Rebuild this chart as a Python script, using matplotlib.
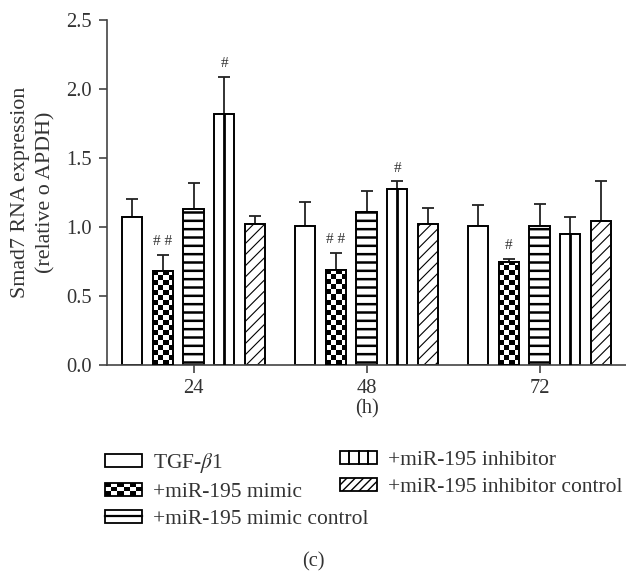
import numpy as np
import matplotlib
matplotlib.use("Agg")
import matplotlib.pyplot as plt
from matplotlib.patches import Rectangle, Patch
from matplotlib.lines import Line2D
from matplotlib.legend_handler import HandlerBase

# ---------------- data ----------------
time_points = ["24", "48", "72"]
groups = ["TGF-$\\beta$1", "+miR-195 mimic", "+miR-195 mimic control",
          "+miR-195 inhibitor", "+miR-195 inhibitor control"]
tgf = [1.07, 1.01, 1.01]
mimic = [0.68, 0.69, 0.75]
mimic_ctrl = [1.13, 1.11, 1.01]
inhibitor = [1.82, 1.275, 0.95]
inhibitor_ctrl = [1.02, 1.02, 1.04]
tgf_err = [0.13, 0.17, 0.15]
mimic_err = [0.12, 0.12, 0.02]
mimic_ctrl_err = [0.19, 0.15, 0.16]
inhibitor_err = [0.27, 0.055, 0.12]
inhibitor_ctrl_err = [0.06, 0.12, 0.29]
# significance marks: (group index, time index, text)
marks_group = [1, 3, 1, 3, 1]
marks_time = [0, 0, 1, 1, 2]
marks_text = ["# #", "#", "# #", "#", "#"]

series = [tgf, mimic, mimic_ctrl, inhibitor, inhibitor_ctrl]
errors = [tgf_err, mimic_err, mimic_ctrl_err, inhibitor_err, inhibitor_ctrl_err]

# ---------------- style ----------------
plt.rcParams['font.family'] = ['Liberation Serif', 'DejaVu Serif']
plt.rcParams['mathtext.fontset'] = 'stix'
TXT = '#333333'
AX = '#444444'
FS = 14.8
LFS = 15.5

fig = plt.figure(figsize=(6.26, 5.72), dpi=100)
W, H = 626, 572
ax = fig.add_axes([107 / W, 1 - 365 / H, 1 - 107 / W, (365 - 20) / H])

x = np.arange(len(time_points))
step = 0.177
width = 0.116
offsets = (np.arange(len(series)) - 2) * step

bars_all = []
for i, (vals, errs) in enumerate(zip(series, errors)):
    kw = dict(width=width, edgecolor='black', linewidth=1.4, facecolor='white', zorder=2)
    if i == 2:
        with plt.rc_context({'hatch.linewidth': 1.8}):
            b = ax.bar(x + offsets[i], vals, hatch='--', **kw)
    elif i == 4:
        with plt.rc_context({'hatch.linewidth': 0.8}):
            b = ax.bar(x + offsets[i], vals, hatch='///', **kw)
    else:
        b = ax.bar(x + offsets[i], vals, **kw)
    ax.errorbar(x + offsets[i], vals, yerr=[np.zeros(len(vals)), errs], fmt='none',
                ecolor='#222222', elinewidth=1.3, capsize=4, capthick=1.3, zorder=1)
    bars_all.append(b)

# checkerboard for mimic bars
cell_x = 0.0289
cell_y = 0.0362
for rect in bars_all[1]:
    x0, y0 = rect.get_x(), rect.get_y()
    w, h = rect.get_width(), rect.get_height()
    nc = int(np.ceil(w / cell_x))
    nr = int(np.ceil(h / cell_y))
    pat = (np.indices((nr, nc)).sum(axis=0) % 2).astype(float)
    im = ax.imshow(pat, cmap='gray', extent=(x0, x0 + nc * cell_x, y0, y0 + nr * cell_y),
                   origin='lower', interpolation='nearest', aspect='auto', zorder=2.5)
    im.set_clip_path(rect)
    ax.add_patch(Rectangle((x0, y0), w, h, fill=False, edgecolor='black',
                           linewidth=1.4, zorder=3))

# single vertical line for inhibitor bars
for rect in bars_all[3]:
    cx = rect.get_x() + rect.get_width() / 2
    ax.plot([cx, cx], [0, rect.get_height()], color='black', lw=2.0, zorder=3)

# significance marks
for g, t, s in zip(marks_group, marks_time, marks_text):
    xv = x[t] + offsets[g]
    top = series[g][t] + errors[g][t]
    ax.annotate(s, (xv, top), xytext=(0, 5), textcoords='offset points',
                ha='center', va='bottom', fontsize=11, color=TXT)

ax.set_xlim(-0.5, 2.5)
ax.set_ylim(0, 2.5)
ax.set_yticks([0, 0.5, 1.0, 1.5, 2.0, 2.5])
ax.set_yticklabels([f"{v:.1f}" for v in [0, 0.5, 1.0, 1.5, 2.0, 2.5]])
ax.set_xticks(x)
ax.set_xticklabels(time_points)
for s in ['top', 'right']:
    ax.spines[s].set_visible(False)
for s in ['left', 'bottom']:
    ax.spines[s].set_color(AX)
    ax.spines[s].set_linewidth(1.2)
ax.tick_params(axis='both', colors=AX, labelcolor=TXT, labelsize=FS, width=1.2, length=6)
ax.tick_params(axis='y', pad=5)
ax.tick_params(axis='x', pad=4)
ax.set_ylabel("Smad7 RNA expression\n(relative o APDH)", fontsize=15.8, color=TXT,
              linespacing=1.38, labelpad=8)
ax.set_xlabel("(h)", fontsize=FS, color=TXT, labelpad=1)


# ---------------- legend ----------------
class CheckerHandler(HandlerBase):
    def create_artists(self, legend, orig_handle, xdescent, ydescent, width, height,
                       fontsize, trans):
        arts = []
        nc, nr = 6, 3
        cw, ch = width / nc, height / nr
        arts.append(Rectangle((-xdescent, -ydescent), width, height, facecolor='white',
                              edgecolor='none', transform=trans))
        for r in range(nr):
            for c in range(nc):
                if (r + c) % 2 == 0:
                    arts.append(Rectangle((-xdescent + c * cw, -ydescent + r * ch), cw, ch,
                                          facecolor='black', edgecolor='none', transform=trans))
        arts.append(Rectangle((-xdescent, -ydescent), width, height, fill=False,
                              edgecolor='black', lw=1.3, transform=trans))
        return arts


class LinesHandler(HandlerBase):
    def __init__(self, n, vertical):
        super().__init__()
        self.n = n
        self.vertical = vertical

    def create_artists(self, legend, orig_handle, xdescent, ydescent, width, height,
                       fontsize, trans):
        x0, y0 = -xdescent, -ydescent
        arts = [Rectangle((x0, y0), width, height, facecolor='white',
                          edgecolor='black', lw=1.3, transform=trans)]
        for k in range(1, self.n + 1):
            if self.vertical:
                xx = x0 + width * k / (self.n + 1)
                arts.append(Line2D([xx, xx], [y0, y0 + height], color='black', lw=1.4,
                                   transform=trans))
            else:
                yy = y0 + height * k / (self.n + 1)
                arts.append(Line2D([x0, x0 + width], [yy, yy], color='black', lw=1.6,
                                   transform=trans))
        return arts


class CheckerProxy(Patch):
    pass


class HLineProxy(Patch):
    pass


class VLineProxy(Patch):
    pass


h0 = Patch(facecolor='white', edgecolor='black', lw=1.3)
h1 = CheckerProxy()
h2 = HLineProxy()
h3 = VLineProxy()
with plt.rc_context({'hatch.linewidth': 0.8}):
    h4 = Patch(facecolor='white', edgecolor='black', lw=1.3, hatch='////')

hmap = {CheckerProxy: CheckerHandler(), HLineProxy: LinesHandler(1, False),
        VLineProxy: LinesHandler(3, True)}
leg_kw = dict(loc='upper left', frameon=False, fontsize=LFS, handlelength=1.72,
              handleheight=0.56, handletextpad=0.5, labelspacing=0.36,
              borderaxespad=0, borderpad=0, handler_map=hmap)
leg1 = fig.legend([h0, h1, h2], groups[:3], bbox_to_anchor=(105 / W, 1 - 451 / H), **leg_kw)
leg2 = fig.legend([h3, h4], groups[3:], bbox_to_anchor=(340 / W, 1 - 451 / H), **leg_kw)
for lg in (leg1, leg2):
    for t in lg.get_texts():
        t.set_color(TXT)

fig.text(0.5, 1 - 562 / H, "(c)", ha='center', va='center', fontsize=FS, color=TXT)

fig.savefig("out.png", dpi=100)
